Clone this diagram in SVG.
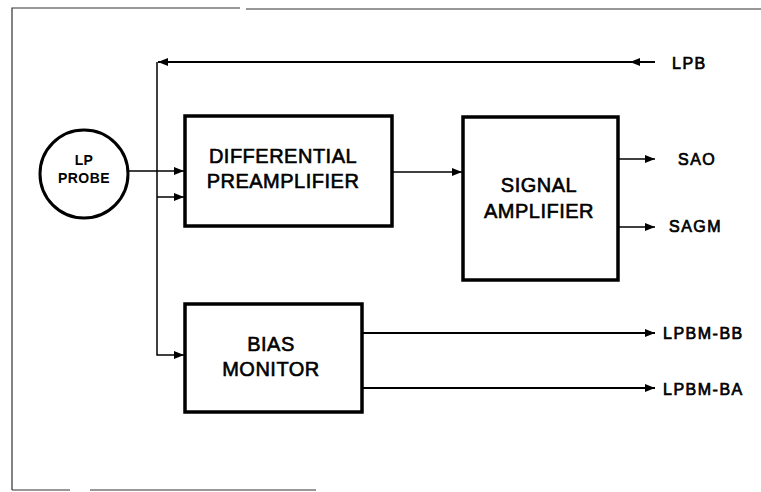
<svg xmlns="http://www.w3.org/2000/svg" width="761" height="492" viewBox="0 0 761 492">
<defs>
<marker id="ah" viewBox="0 0 10 8" refX="10" refY="4" markerWidth="10" markerHeight="8" markerUnits="userSpaceOnUse" orient="auto">
<path d="M0,0 L10,4 L0,8 Z" fill="#000"/>
</marker>
</defs>
<style>
.box{fill:#fff;stroke:#000;stroke-width:3.5}
.ln{fill:none;stroke:#000;stroke-width:1.5}
.frame{fill:none;stroke:#333;stroke-width:1.2}
.bt{font-family:"Liberation Sans",Arial,sans-serif;font-size:20px;text-anchor:middle;dominant-baseline:central;letter-spacing:0.5px;stroke:#000;stroke-width:0.6}
.lb{font-family:"Liberation Sans",Arial,sans-serif;font-size:16px;dominant-baseline:central;letter-spacing:1.5px;stroke:#000;stroke-width:0.7}
.pt{font-family:"Liberation Sans",Arial,sans-serif;font-size:14px;font-weight:bold;text-anchor:middle;dominant-baseline:central;letter-spacing:0.4px}
</style>
<g id="frame">
<path class="frame" d="M12,490 L12,8 L240,8 M246,9 L761,9 M12,490 L70,490 M90,490 L316,490"/>
</g>
<g id="connectors">
<path class="ln" d="M655,62 L630,62" marker-end="url(#ah)" style="stroke-width:2"/>
<path class="ln" d="M632,62 L158,62" marker-end="url(#ah)" style="stroke-width:2"/>
<path class="ln" d="M157,62 L157,355 L184,355" marker-end="url(#ah)"/>
<path class="ln" d="M128,171 L184,171" marker-end="url(#ah)"/>
<path class="ln" d="M157,197 L184,197" marker-end="url(#ah)"/>
<path class="ln" d="M392,172 L462,172" marker-end="url(#ah)"/>
<path class="ln" d="M618,159 L655,159" marker-end="url(#ah)"/>
<path class="ln" d="M618,227 L655,227" marker-end="url(#ah)"/>
<path class="ln" d="M362,333 L655,333" marker-end="url(#ah)" style="stroke-width:2"/>
<path class="ln" d="M362,388 L655,388" marker-end="url(#ah)" style="stroke-width:2"/>
</g>
<g id="lp-probe">
<circle cx="84" cy="174" r="44" fill="#fff" stroke="#000" stroke-width="3"/>
<text class="pt" x="84" y="160">LP</text>
<text class="pt" x="84" y="178">PROBE</text>
</g>
<g id="diff-preamp">
<rect class="box" x="185" y="116" width="207" height="110"/>
<text class="bt" x="283" y="156">DIFFERENTIAL</text>
<text class="bt" x="283" y="181">PREAMPLIFIER</text>
</g>
<g id="signal-amp">
<rect class="box" x="463" y="117" width="155" height="163"/>
<text class="bt" x="539" y="185">SIGNAL</text>
<text class="bt" x="539" y="211">AMPLIFIER</text>
</g>
<g id="bias-monitor">
<rect class="box" x="185" y="304" width="177" height="108"/>
<text class="bt" x="271" y="344">BIAS</text>
<text class="bt" x="271" y="369">MONITOR</text>
</g>
<g id="labels">
<text class="lb" x="672" y="63">LPB</text>
<text class="lb" x="678" y="159">SAO</text>
<text class="lb" x="669" y="226">SAGM</text>
<text class="lb" x="663" y="333">LPBM-BB</text>
<text class="lb" x="663" y="389">LPBM-BA</text>
</g>
</svg>
